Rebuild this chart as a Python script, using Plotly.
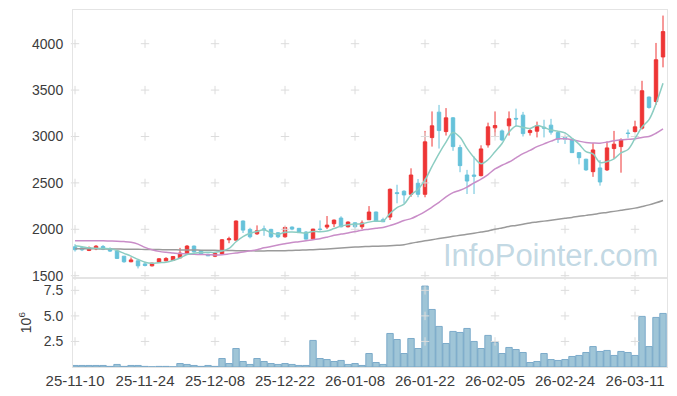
import pandas as pd
import plotly.graph_objects as go

# ---- categories (trading days) ----
holidays = ["2025-12-25", "2025-12-31", "2026-01-01",
            "2026-02-16", "2026-02-17", "2026-02-18", "2026-03-02"]
days = [d for d in pd.bdate_range("2025-11-10", "2026-03-17")
        if d.strftime("%Y-%m-%d") not in holidays]
dates = [d.strftime("%y-%m-%d") for d in days]

# ---- series values ----
opens = [1811, 1800, 1772, 1789, 1815, 1793, 1765, 1710, 1650, 1660,
         1627, 1606, 1646, 1660, 1664, 1692, 1735, 1819, 1772, 1732,
         1710, 1735, 1887, 1883, 2089, 1999, 1951, 2005, 1999, 1962,
         1919, 2024, 2010, 1970, 1897, 2003, 2024, 2060, 2121, 2027,
         2070, 2027, 2103, 2186, 2103, 2132, 2395, 2410, 2377, 2496,
         2377, 2988, 3262, 3053, 3201, 2880, 2585, 2585, 2578, 2909,
         3093, 3060, 3115, 3195, 3230, 3042, 3057, 3100, 3122, 3042,
         2993, 2971, 2826, 2755, 2621, 2661, 2640, 2870, 2891, 3038,
         3053, 3090, 3425, 3377, 3857]
highs = [1840, 1810, 1815, 1830, 1830, 1805, 1770, 1712, 1697, 1665,
         1650, 1640, 1690, 1700, 1712, 1800, 1830, 1825, 1775, 1735,
         1745, 1895, 1920, 2095, 2095, 2016, 2042, 2040, 2005, 1970,
         2030, 2030, 2015, 1980, 2005, 2096, 2143, 2105, 2140, 2085,
         2075, 2095, 2250, 2190, 2125, 2440, 2480, 2420, 2657, 2542,
         3060, 3270, 3340, 3306, 3210, 2910, 2640, 2785, 2905, 3149,
         3270, 3075, 3270, 3300, 3265, 3090, 3160, 3180, 3190, 3050,
         3010, 2975, 2830, 2760, 2930, 2746, 2945, 3060, 2980, 3075,
         3170, 3600, 3430, 4008, 4303]
lows = [1760, 1765, 1765, 1775, 1775, 1755, 1680, 1640, 1645, 1578,
        1600, 1600, 1640, 1655, 1660, 1690, 1730, 1750, 1725, 1712,
        1700, 1730, 1850, 1880, 1960, 1902, 1940, 1930, 1905, 1905,
        1910, 1990, 1960, 1890, 1890, 1985, 2002, 2024, 2020, 2020,
        2010, 2000, 2100, 2080, 2080, 2100, 2280, 2280, 2350, 2345,
        2345, 2891, 2870, 3010, 2845, 2615, 2380, 2380, 2570, 2880,
        2995, 2950, 3010, 3110, 3000, 3010, 2990, 2990, 3020, 2930,
        2920, 2826, 2700, 2630, 2565, 2470, 2628, 2760, 2610, 2985,
        3040, 3075, 3300, 3340, 3745]
closes = [1780, 1779, 1800, 1818, 1785, 1765, 1686, 1650, 1670, 1606,
          1610, 1635, 1682, 1686, 1707, 1743, 1819, 1757, 1729, 1714,
          1740, 1887, 1897, 2089, 1991, 1919, 1984, 1995, 1919, 1919,
          2020, 2002, 1967, 1894, 2002, 1998, 2045, 2099, 2027, 2078,
          2027, 2068, 2186, 2085, 2081, 2431, 2385, 2370, 2585, 2377,
          2942, 3115, 3064, 3201, 2891, 2686, 2520, 2572, 2866, 3104,
          3118, 2963, 3190, 3188, 3031, 3064, 3115, 3090, 3047, 2971,
          2971, 2826, 2772, 2640, 2855, 2510, 2877, 2917, 2963, 3032,
          3104, 3493, 3312, 3827, 4130]
volume_m = [0.15, 0.15, 0.15, 0.15, 0.15, 0.06, 0.25, 0.06, 0.15, 0.15,
            0.06, 0.02, 0.06, 0.06, 0.02, 0.34, 0.25, 0.15, 0.06, 0.15,
            0.06, 0.83, 0.34, 1.81, 0.54, 0.25, 0.83, 0.54, 0.34, 0.25,
            0.34, 0.25, 0.15, 0.15, 2.60, 0.83, 0.73, 0.54, 0.64, 0.25,
            0.34, 0.15, 1.32, 0.44, 0.25, 3.28, 2.69, 1.32, 2.79, 1.81,
            7.92, 5.63, 3.97, 2.30, 3.48, 3.38, 3.77, 2.50, 1.81, 3.09,
            2.40, 1.32, 1.91, 1.71, 1.42, 0.44, 0.54, 1.32, 0.73, 0.64,
            0.73, 1.03, 1.13, 1.42, 2.00, 1.52, 1.62, 1.13, 1.52, 1.42,
            1.13, 4.95, 2.00, 4.85, 5.24]
# moving averages
ma5_head = [1822, 1812, 1800, 1795]
ma20 = [1876, 1876, 1876, 1876, 1876, 1874, 1872, 1868, 1860, 1840,
        1805, 1780, 1762, 1752, 1745, 1738, 1733, 1730, 1728, 1726,
        1724, 1726, 1735, 1745, 1755, 1768, 1780, 1800, 1815, 1830,
        1845, 1858, 1866, 1876, 1888, 1898, 1915, 1935, 1948, 1960,
        1975, 1990, 2000, 2010, 2020, 2040, 2065, 2095, 2115, 2150,
        2190, 2240, 2290, 2350, 2395, 2420, 2455, 2500, 2540, 2590,
        2650, 2690, 2725, 2770, 2815, 2850, 2890, 2920, 2950, 2975,
        2975, 2965, 2950, 2935, 2930, 2928, 2940, 2955, 2965, 2970,
        2975, 2990, 3000, 3035, 3082]
ma60 = [1790, 1790, 1789, 1789, 1788, 1788, 1787, 1786, 1785, 1784,
        1783, 1782, 1781, 1780, 1779, 1778, 1777, 1776, 1775, 1774,
        1773, 1772, 1771, 1770, 1769, 1768, 1767, 1767, 1768, 1769,
        1770, 1772, 1774, 1777, 1780, 1784, 1788, 1793, 1798, 1803,
        1808, 1812, 1815, 1817, 1819, 1823, 1828, 1833, 1850, 1863,
        1876, 1888, 1900, 1912, 1924, 1935, 1946, 1958, 1970, 1982,
        2000, 2015, 2030, 2042, 2055, 2068, 2078, 2088, 2098, 2108,
        2118, 2128, 2140, 2150, 2160, 2172, 2182, 2193, 2204, 2215,
        2228, 2245, 2263, 2285, 2310]

price_ticks = [1500, 2000, 2500, 3000, 3500, 4000]
vol_ticks = [2.5, 5.0, 7.5]
vol_ticktext = ["2.5", "5.0", "7.5"]
x_ticks = dates[::10]

ma5 = pd.Series(closes).rolling(5).mean().tolist()
ma5[:4] = ma5_head

UP = "#ee3535"
DOWN = "#66c2da"
FRAME = "#e4e4e4"
GRIDX = "#dcdcdc"
TXT = "#3c3c3c"
FONT = "Liberation Sans"
FSX = 15
FSY = 14

fig = go.Figure()

# cross markers at the grid intersections (drawn first, beneath the data)
gx, gy = [], []
for xv in x_ticks:
    for yv in price_ticks:
        gx.append(xv); gy.append(yv)
fig.add_trace(go.Scatter(x=gx, y=gy, mode="markers", xaxis="x", yaxis="y",
                         marker=dict(symbol="cross-thin", size=6,
                                     line=dict(color=GRIDX, width=1)),
                         showlegend=False, hoverinfo="skip", cliponaxis=False))
gx2, gy2 = [], []
for xv in x_ticks:
    for yv in vol_ticks:
        gx2.append(xv); gy2.append(yv)
fig.add_trace(go.Scatter(x=gx2, y=gy2, mode="markers", xaxis="x2", yaxis="y2",
                         marker=dict(symbol="cross-thin", size=6,
                                     line=dict(color=GRIDX, width=1)),
                         showlegend=False, hoverinfo="skip", cliponaxis=False))

fig.add_trace(go.Candlestick(
    x=dates, open=opens, high=highs, low=lows, close=closes,
    increasing=dict(line=dict(color=UP, width=1), fillcolor=UP),
    decreasing=dict(line=dict(color=DOWN, width=1), fillcolor=DOWN),
    whiskerwidth=0, xaxis="x", yaxis="y", showlegend=False,
    hoverinfo="skip"))

for vals, col in [(ma60, "#9a9a9a"), (ma20, "#c98dc8"), (ma5, "#8ccdc2")]:
    fig.add_trace(go.Scatter(x=dates, y=vals, mode="lines",
                             line=dict(color=col, width=1.5, shape="spline"),
                             xaxis="x", yaxis="y", showlegend=False,
                             hoverinfo="skip"))

fig.add_trace(go.Bar(x=dates, y=volume_m, xaxis="x2", yaxis="y2",
                     marker=dict(color="rgba(135,182,205,0.8)",
                                 line=dict(color="rgba(115,165,198,0.9)", width=1)),
                     showlegend=False, hoverinfo="skip"))

xr = [-0.29, 84.57]
split = 0.2485
# the page body adds an 8px offset, so the figure is 8px smaller on each axis
fig.update_layout(
    width=669, height=388,
    margin=dict(l=65, r=10, t=2, b=29),
    paper_bgcolor="white", plot_bgcolor="white",
    font=dict(family=FONT, size=FSX, color=TXT),
    bargap=0.08,
    xaxis=dict(type="category", range=xr, domain=[0, 1], anchor="y",
               showticklabels=False, showgrid=False, zeroline=False,
               showline=True, linecolor=FRAME, mirror=True,
               rangeslider=dict(visible=False), categoryorder="array",
               categoryarray=dates),
    yaxis=dict(domain=[split, 1], range=[1472, 4363], tickvals=price_ticks,
               showgrid=False, zeroline=False, showline=True,
               linecolor=FRAME, mirror=True, ticks="", ticklabelstandoff=6,
               tickfont=dict(size=FSY, color=TXT)),
    xaxis2=dict(type="category", range=xr, domain=[0, 1], anchor="y2",
                matches="x", tickvals=x_ticks, ticktext=x_ticks,
                showgrid=False, zeroline=False, showline=True,
                linecolor=FRAME, mirror=True, ticks="",
                tickfont=dict(size=FSX, color=TXT), categoryorder="array",
                categoryarray=dates),
    yaxis2=dict(domain=[0, split], range=[0, 8.68], tickvals=vol_ticks,
                ticktext=vol_ticktext, showgrid=False, zeroline=False,
                showline=True, linecolor=FRAME, mirror=True, ticks="",
                ticklabelstandoff=6, tickfont=dict(size=FSY, color=TXT),
                title=dict(text="10<sup>6</sup>", standoff=8,
                           font=dict(size=FSY, color=TXT))),
    annotations=[dict(text="InfoPointer.com", xref="paper", yref="paper",
                      x=0.988, y=0.311, xanchor="right", yanchor="middle",
                      showarrow=False,
                      font=dict(family=FONT, size=31,
                                color="rgba(155,192,210,0.62)"))],
)

fig.write_html("out.html")
